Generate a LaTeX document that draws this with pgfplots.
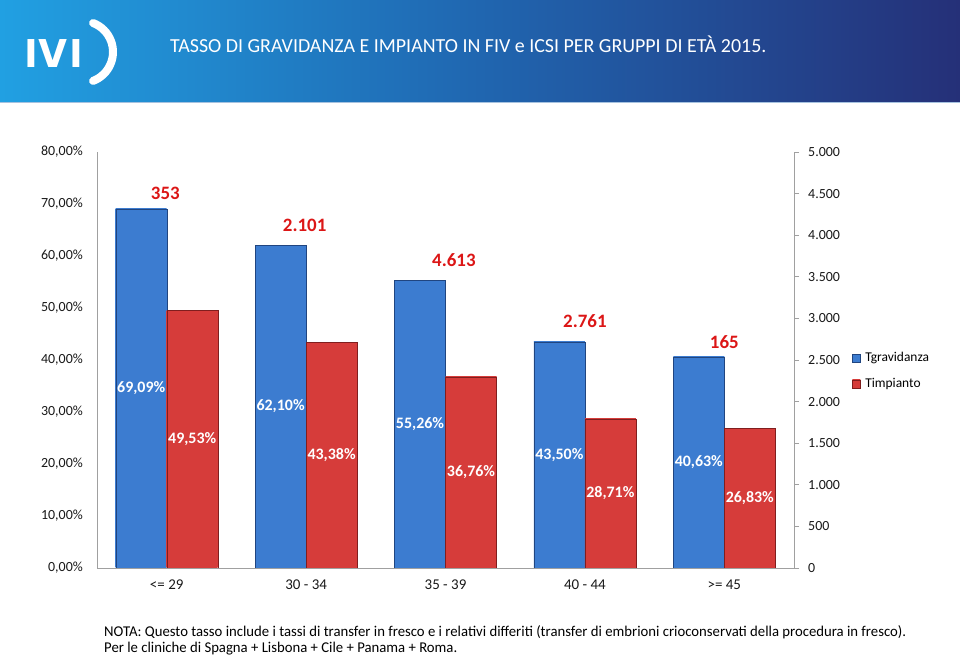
\documentclass[border=0pt]{standalone}
\usepackage{pgfplots}
\pgfplotsset{compat=1.18}
\usepackage{graphicx}
\usepackage{fontspec}
\setmainfont{Carlito}
\newfontfamily\logofont{Poppins}
\definecolor{barblueD}{RGB}{40,86,160}
\definecolor{barblueL}{RGB}{60,124,208}
\definecolor{barredD}{RGB}{160,38,38}
\definecolor{barredL}{RGB}{214,60,58}
\definecolor{cntred}{RGB}{220,22,22}
\definecolor{axgray}{RGB}{160,160,160}
\definecolor{hdrL}{RGB}{33,160,226}
\definecolor{hdrM}{RGB}{32,102,176}
\definecolor{hdrR}{RGB}{37,48,120}
\definecolor{txtgray}{RGB}{25,25,25}
\pgfdeclarehorizontalshading{bluebar}{100bp}{color(0bp)=(barblueD); color(7bp)=(barblueL); color(93bp)=(barblueL); color(100bp)=(barblueD)}
\pgfdeclarehorizontalshading{redbar}{100bp}{color(0bp)=(barredD); color(7bp)=(barredL); color(93bp)=(barredL); color(100bp)=(barredD)}
\pgfplotsset{
  bluebars/.style={ybar, bar width=51bp, bar shift=-25.5bp, draw=barblueD!80!black, line width=0.4bp, shading=bluebar},
  redbars/.style={ybar, bar width=51bp, bar shift=25.5bp, draw=barredD!80!black, line width=0.4bp, shading=redbar},
}
\begin{document}
\begin{tikzpicture}[x=1bp,y=1bp]
\path[use as bounding box] (0,0) rectangle (960,661);
\fill[white] (0,0) rectangle (960,661);
% header
\shade[left color=hdrL, right color=hdrR, middle color=hdrM] (0,558) rectangle (960,661);
\draw[white!60!hdrM, line width=1bp] (0,558.5) -- (960,558.5);
\node[anchor=base, text=white, inner sep=0pt, font=\logofont\bfseries\fontsize{40}{40}\selectfont] at (31.5,593) {I};
\node[anchor=base, text=white, inner sep=0pt, font=\logofont\bfseries\fontsize{40}{40}\selectfont] at (53.5,593) {V};
\node[anchor=base, text=white, inner sep=0pt, font=\logofont\bfseries\fontsize{40}{40}\selectfont] at (76,593) {I};
\draw[white, line width=8bp, line cap=round] (93.1,580.1) arc[start angle=-69, end angle=69, radius=31];
\node[anchor=base west, text=white, inner sep=0pt, font=\fontsize{20}{24}\selectfont] at (170,608) {TASSO DI GRAVIDANZA E IMPIANTO IN FIV e ICSI PER GRUPPI DI ETÀ 2015.};
% left axis with bars
\begin{axis}[
  at={(97bp,93bp)}, anchor=south west, scale only axis,
  width=697bp, height=416bp,
  xmin=-0.5, xmax=4.5, ymin=0, ymax=80,
  axis x line*=bottom, axis y line*=left,
  axis line style={axgray, line width=0.8bp},
  ytick={0,10,...,80},
  yticklabel={\pgfmathprintnumber[fixed,fixed zerofill,precision=2,use comma]{\tick}\%},
  xtick={0,1,2,3,4},
  xticklabels={{<= 29},{30 - 34},{35 - 39},{40 - 44},{>= 45}},
  major tick length=0pt,
  tick label style={font=\fontsize{14}{16}\selectfont, text=txtgray},
  yticklabel style={inner sep=0pt, xshift=-14bp},
  xticklabel style={inner sep=0pt, yshift=-12bp, font=\fontsize{15}{16}\selectfont},
  /pgf/number format/assume math mode=true,
  legend style={at={(1.083,0.523)}, anchor=north west, draw=none, fill=none,
    font=\fontsize{13.5}{15}\selectfont, row sep=11bp, inner sep=0pt,
    nodes={inner sep=2bp}},
  legend cell align=left,
  legend image code/.code={\path[#1] (0bp,-4bp) rectangle (8bp,4bp); \path[draw=none, fill=none] (0bp,0bp) -- (11bp,0bp);},
]
\addplot[bluebars] coordinates {(0,69.09)};
\addlegendentry{Tgravidanza}
\addplot[redbars] coordinates {(0,49.53)};
\addlegendentry{Timpianto}
\addplot[bluebars, forget plot] coordinates {(1,62.10)};
\addplot[bluebars, forget plot] coordinates {(2,55.26)};
\addplot[bluebars, forget plot] coordinates {(3,43.50)};
\addplot[bluebars, forget plot] coordinates {(4,40.63)};
\addplot[redbars, forget plot] coordinates {(1,43.38)};
\addplot[redbars, forget plot] coordinates {(2,36.76)};
\addplot[redbars, forget plot] coordinates {(3,28.71)};
\addplot[redbars, forget plot] coordinates {(4,26.83)};
% value labels inside bars
\addplot[draw=none, mark=none, forget plot, nodes near coords, point meta=explicit symbolic,
  y filter/.expression={y/2},
  nodes near coords style={anchor=center, inner sep=0pt, xshift=-25.5bp, text=white,
    font=\bfseries\fontsize{16}{16}\selectfont}]
  coordinates {(0,69.09)[69,09\%] (1,62.10)[62,10\%] (2,55.26)[55,26\%] (3,43.50)[43,50\%] (4,40.63)[40,63\%]};
\addplot[draw=none, mark=none, forget plot, nodes near coords, point meta=explicit symbolic,
  y filter/.expression={y/2},
  nodes near coords style={anchor=center, inner sep=0pt, xshift=25.5bp, text=white,
    font=\bfseries\fontsize{16}{16}\selectfont}]
  coordinates {(0,49.53)[49,53\%] (1,43.38)[43,38\%] (2,36.76)[36,76\%] (3,28.71)[28,71\%] (4,26.83)[26,83\%]};
% counts
\addplot[draw=none, mark=none, forget plot, nodes near coords, point meta=explicit symbolic,
  nodes near coords style={anchor=center, inner sep=0pt, text=cntred,
    font=\bfseries\fontsize{19}{19}\selectfont}]
  coordinates {(-0.01,72.1)[353] (0.99,65.8)[2.101] (2.06,59.2)[4.613] (3,47.5)[2.761] (4,43.4)[165]};
\end{axis}
% right axis
\begin{axis}[
  at={(97bp,93bp)}, anchor=south west, scale only axis,
  width=697bp, height=416bp,
  xmin=-0.5, xmax=4.5, ymin=0, ymax=5000,
  axis y line*=right, axis x line=none,
  axis line style={axgray, line width=0.8bp},
  ytick={0,500,...,5000}, scaled y ticks=false,
  tick align=outside, major tick length=5bp,
  tick style={axgray, line width=0.8bp},
  yticklabel style={anchor=west, inner sep=0pt, xshift=9bp, font=\fontsize{14}{16}\selectfont, text=txtgray},
  /pgf/number format/.cd, 1000 sep={.}, assume math mode=true,
]
\end{axis}
% footnote
\node[anchor=base west, inner sep=0pt, text=black] at (104,24) {\resizebox{802bp}{\height}{\fontsize{15}{16}\selectfont\begin{tabular}[t]{@{}l@{}}NOTA: Questo tasso include i tassi di transfer in fresco e i relativi differiti (transfer di embrioni crioconservati della procedura in fresco).\\Per le cliniche di Spagna + Lisbona + Cile + Panama + Roma.\end{tabular}}};
\end{tikzpicture}
\end{document}
